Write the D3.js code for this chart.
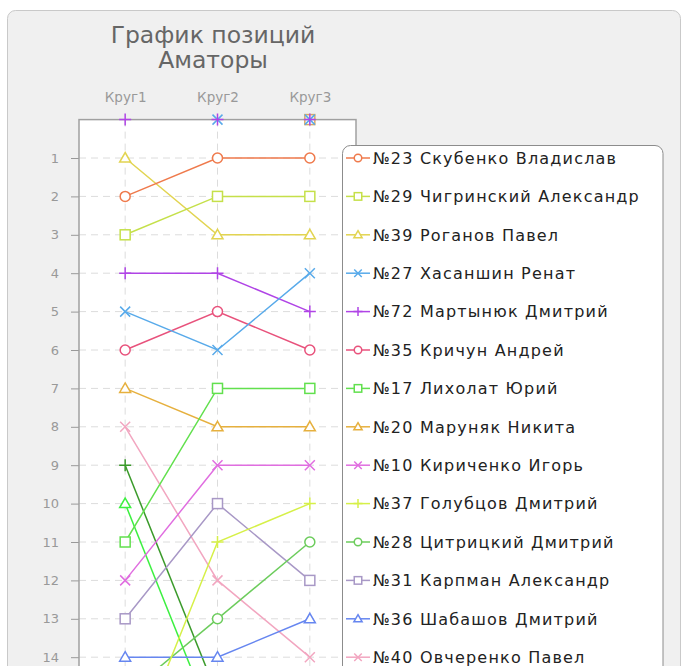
<!DOCTYPE html>
<html><head><meta charset="utf-8">
<script src="https://cdn.jsdelivr.net/npm/d3@7"></script>
<style>
body{margin:0;background:#fff;overflow:hidden}
svg{display:block;font-family:"DejaVu Sans",sans-serif}
</style>
</head><body>
<script>
const title = ["График позиций", "Аматоры"];
const rounds = ["Круг1", "Круг2", "Круг3"];
const players = [
  "№23 Скубенко Владислав", "№29 Чигринский Александр", "№39 Роганов Павел",
  "№27 Хасаншин Ренат", "№72 Мартынюк Дмитрий", "№35 Кричун Андрей",
  "№17 Лихолат Юрий", "№20 Маруняк Никита", "№10 Кириченко Игорь",
  "№37 Голубцов Дмитрий", "№28 Цитрицкий Дмитрий", "№31 Карпман Александр",
  "№36 Шабашов Дмитрий", "№40 Овчеренко Павел"
];
// position per round (Круг1, Круг2, Круг3)
const positions = [
  [2, 1, 1], [3, 2, 2], [1, 3, 3], [5, 6, 4], [4, 4, 5], [6, 5, 6], [11, 7, 7],
  [7, 8, 8], [12, 9, 9], [17, 11, 10], [15, 13, 11], [13, 10, 12], [14, 14, 13], [8, 12, 14]
];
const colors = ["#ef7a4c", "#c5e04a", "#e2d451", "#58aaea", "#b044e6", "#e8527c", "#62e04e",
  "#e6b03e", "#e06ee0", "#d6f048", "#6ccc5c", "#a898c6", "#6686f0", "#f2a6c0"];
const shapes = ["circle", "square", "triangle", "x", "plus", "circle", "square",
  "triangle", "x", "plus", "circle", "square", "triangle", "x"];
// series further down the list (legend cut off); 0 = shown on the top edge, no line
const extraPositions = [[null, null, 0], [9, 15, null], [10, 16, null], [null, 0, 0], [0, 0, 0]];
const extraColors = ["#d8aa66", "#3a9a2a", "#3cf040", "#58aaea", "#b044e6"];
const extraShapes = ["square", "plus", "triangle", "x", "plus"];
const yTicks = d3.range(1, 21);

const W = 682, H = 666;
const svg = d3.select("body").append("svg").attr("width", W).attr("height", H);

// panel
svg.append("rect").attr("x", 7.5).attr("y", 10.5).attr("width", 673).attr("height", 720)
  .attr("rx", 8).attr("fill", "#f0f0f0").attr("stroke", "#c9c9c9");

const plot = {left: 79, right: 356, top: 119.6};
const x = d3.scalePoint().domain(rounds).range([plot.left, plot.right]).padding(0.5);
const y = d3.scaleLinear().domain([0, 20]).range([plot.top, plot.top + 20 * 38.4]);
const plotBottom = y(20) + 20;

// title
svg.append("g").selectAll("text").data(title).join("text")
  .attr("x", 213).attr("y", (d, i) => 43 + i * 25)
  .attr("text-anchor", "middle").attr("font-size", 23.5).attr("fill", "#666").text(d => d);

// plot background
svg.append("rect").attr("x", plot.left).attr("y", plot.top)
  .attr("width", plot.right - plot.left).attr("height", plotBottom - plot.top).attr("fill", "#fff");

// grid
const grid = svg.append("g").attr("stroke", "#dcdcdc").attr("stroke-dasharray", "7,5").attr("stroke-width", 1);
grid.selectAll("line.h").data(yTicks).join("line").attr("class", "h")
  .attr("x1", plot.left).attr("x2", plot.right).attr("y1", d => y(d)).attr("y2", d => y(d));
grid.selectAll("line.v").data(rounds).join("line").attr("class", "v")
  .attr("x1", d => x(d)).attr("x2", d => x(d)).attr("y1", plot.top).attr("y2", plotBottom);

// axes
const ay = svg.append("g").attr("transform", `translate(${plot.left},0)`)
  .call(d3.axisLeft(y).tickValues(yTicks).tickSize(8).tickPadding(12).tickFormat(d3.format("d")));
ay.select(".domain").remove();
ay.selectAll("line").attr("stroke", "#999");
ay.selectAll("text").attr("font-size", 13).attr("fill", "#999").attr("font-family", "DejaVu Sans");

const ax = svg.append("g").attr("transform", `translate(0,${plot.top})`)
  .call(d3.axisTop(x).tickSize(0).tickPadding(18));
ax.select(".domain").remove();
ax.selectAll("text").attr("font-size", 13.5).attr("fill", "#999").attr("font-family", "DejaVu Sans");

// border
svg.append("rect").attr("x", plot.left).attr("y", plot.top)
  .attr("width", plot.right - plot.left).attr("height", plotBottom - plot.top)
  .attr("fill", "none").attr("stroke", "#a0a0a0").attr("stroke-width", 1.5);

function marker(g, shape, color, k, fill) {
  if (shape === "circle") g.append("circle").attr("r", 5 * k);
  else if (shape === "square") g.append("rect").attr("x", -5 * k).attr("y", -5 * k).attr("width", 10 * k).attr("height", 10 * k);
  else if (shape === "triangle") g.append("path").attr("d", `M0,${-5.5 * k}L${5.5 * k},${4 * k}L${-5.5 * k},${4 * k}Z`);
  else if (shape === "x") g.append("path").attr("d", `M${-5 * k},${-5 * k}L${5 * k},${5 * k}M${-5 * k},${5 * k}L${5 * k},${-5 * k}`);
  else g.append("path").attr("d", `M${-6 * k},0L${6 * k},0M0,${-6 * k}L0,${6 * k}`);
  g.selectAll("*").attr("fill", fill).attr("stroke", color).attr("stroke-width", 1.5);
}

const line = d3.line().defined(d => d.v != null && d.v > 0).x(d => x(d.r)).y(d => y(d.v));

function drawSeries(vals, color, shape) {
  const pts = vals.map((v, i) => ({r: rounds[i], v}));
  const g = svg.append("g");
  g.append("path").datum(pts).attr("d", line).attr("fill", "none")
    .attr("stroke", color).attr("stroke-width", 1.5);
  pts.filter(d => d.v != null).forEach(d => {
    marker(g.append("g").attr("transform", `translate(${x(d.r)},${y(d.v)})`), shape, color, 1,
      d.v === 0 ? "none" : "#fff");
  });
}
extraPositions.forEach((v, i) => drawSeries(v, extraColors[i], extraShapes[i]));
for (let i = positions.length - 1; i >= 0; i--) drawSeries(positions[i], colors[i], shapes[i]);

// legend
const lg = svg.append("g");
lg.append("rect").attr("x", 342.5).attr("y", 145.5).attr("width", 320.5).attr("height", 640)
  .attr("rx", 8).attr("fill", "#fff").attr("stroke", "#8c8c8c");
players.forEach((name, i) => {
  const cy = y(i + 1);
  const e = lg.append("g").attr("transform", `translate(0,${cy})`);
  e.append("line").attr("x1", 346).attr("x2", 370).attr("stroke", colors[i]).attr("stroke-width", 1.5);
  marker(e.append("g").attr("transform", "translate(358,0)"), shapes[i], colors[i], 0.75, "#fff");
  e.append("text").attr("x", 373).attr("dy", "0.36em").attr("font-size", 16)
    .attr("letter-spacing", "1.2px").attr("fill", "#222").text(name);
});
</script>
</body></html>
